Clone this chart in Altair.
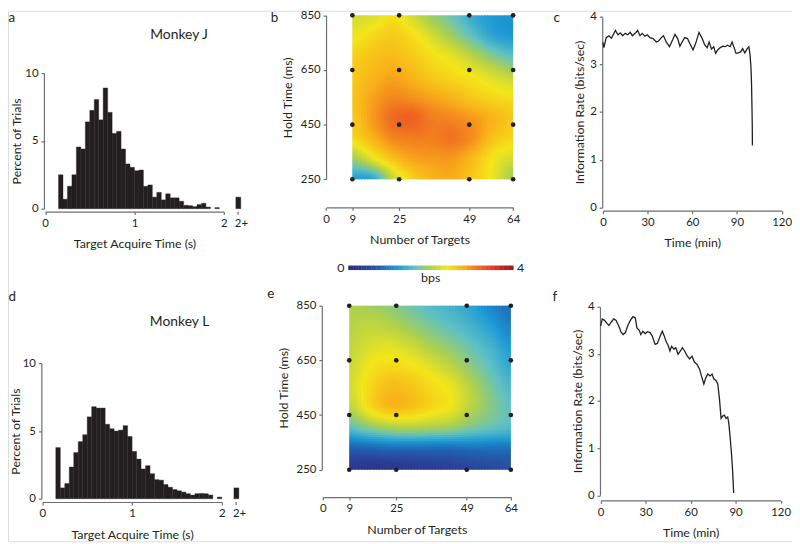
import altair as alt
import numpy as np
import pandas as pd

# ---------------- data ----------------
BIN_START = 0.15
BIN_WIDTH = 0.05
pct_monkey_j = [2.5, 0.7, 1.65, 2.5, 4.55, 4.4, 6.4, 7.25, 8.05, 6.55, 8.9, 7.1, 5.55, 5.7,
                4.4, 3.3, 3.05, 2.8, 2.85, 1.65, 1.75, 0.85, 1.2, 0.65, 1.1, 0.8, 0.8, 0.55,
                0.25, 0.22, 0.15, 0.3, 0.4, 0.12, 0.0, 0.08]
over2_monkey_j = 0.85
pct_monkey_l = [3.78, 0.8, 1.12, 2.34, 3.41, 4.22, 4.73, 6.05, 6.8, 6.7, 6.7, 5.5, 5.17, 5.0,
                5.07, 5.4, 4.6, 3.5, 2.93, 2.2, 2.44, 1.85, 1.41, 1.37, 1.05, 0.85, 0.68, 0.59,
                0.49, 0.37, 0.27, 0.37, 0.39, 0.37, 0.27, 0.0, 0.12]
over2_monkey_l = 0.8
OVER2_POS = 2.16

n_targets = [9, 25, 49, 64]
hold_times = [250, 450, 650, 850]

# colour values read on a regular grid over the maps (rows: 850 -> 250 ms, cols: 9 -> 64 targets)
GRID_X = [9.0, 15.875, 22.75, 29.625, 36.5, 43.375, 50.25, 57.125, 64.0]
GRID_Y = [850, 775, 700, 625, 550, 475, 400, 325, 250]
bps_monkey_j = [
    [2.2, 2.25, 2.45, 2.2, 1.9, 1.65, 1.35, 1.2, 1.15],
    [2.35, 2.5, 2.6, 2.45, 2.2, 1.9, 1.6, 1.3, 1.2],
    [2.55, 2.65, 2.7, 2.6, 2.45, 2.3, 2.05, 1.8, 1.6],
    [2.6, 2.75, 2.85, 2.75, 2.6, 2.5, 2.4, 2.25, 2.1],
    [2.65, 2.85, 3.0, 2.95, 2.85, 2.75, 2.6, 2.5, 2.45],
    [2.6, 2.9, 3.15, 3.2, 3.05, 3.0, 2.9, 2.75, 2.6],
    [2.5, 2.75, 3.0, 3.05, 3.05, 3.1, 2.95, 2.65, 2.5],
    [1.9, 2.3, 2.65, 2.85, 2.9, 2.9, 2.7, 2.4, 2.2],
    [1.25, 1.3, 2.1, 2.55, 2.75, 2.8, 2.6, 2.35, 1.9],
]
bps_monkey_l = [
    [2.0, 1.95, 1.85, 1.7, 1.55, 1.45, 1.3, 1.05, 0.85],
    [2.05, 2.1, 2.05, 1.9, 1.75, 1.6, 1.45, 1.25, 1.0],
    [2.1, 2.25, 2.3, 2.2, 2.0, 1.85, 1.65, 1.45, 1.2],
    [2.15, 2.4, 2.5, 2.45, 2.3, 2.1, 1.85, 1.6, 1.35],
    [2.2, 2.5, 2.7, 2.65, 2.5, 2.35, 2.05, 1.75, 1.5],
    [2.05, 2.45, 2.7, 2.65, 2.5, 2.35, 2.05, 1.8, 1.6],
    [1.55, 1.75, 1.9, 1.95, 1.9, 1.85, 1.7, 1.6, 1.5],
    [0.7, 0.75, 0.8, 0.8, 0.8, 0.8, 0.85, 0.85, 0.85],
    [0.3, 0.25, 0.25, 0.3, 0.35, 0.4, 0.45, 0.5, 0.55],
]

time_j = [0, 0.66, 2.2, 4.0, 5.7, 8.4, 10.1, 11.7, 13.2, 15.0, 16.7, 18.3, 19.8, 21.6, 23.3,
          24.9, 26.4, 28.2, 29.9, 31.5, 33.7, 35.9, 37.4, 39.2, 40.7, 42.5, 44.7, 46.9, 48.4,
          50.2, 51.7, 53.5, 55.0, 56.8, 58.6, 60.5, 62.3, 64.5, 66.7, 68.2, 70.0, 71.3, 72.9,
          74.4, 75.7, 77.1, 78.8, 80.6, 82.1, 83.7, 85.4, 86.7, 88.1, 89.4, 90.9, 92.5, 93.8,
          95.3, 96.9, 98.0, 98.8, 99.4, 99.8, 100.1, 100.3, 100.4]
rate_j = [3.46, 3.35, 3.56, 3.6, 3.55, 3.71, 3.62, 3.66, 3.6, 3.65, 3.62, 3.67, 3.6, 3.65, 3.71,
          3.6, 3.65, 3.59, 3.62, 3.56, 3.54, 3.47, 3.49, 3.56, 3.6, 3.47, 3.37, 3.52, 3.63, 3.54,
          3.38, 3.49, 3.56, 3.54, 3.42, 3.3, 3.44, 3.67, 3.54, 3.42, 3.35, 3.47, 3.32, 3.37, 3.23,
          3.3, 3.35, 3.38, 3.37, 3.4, 3.37, 3.47, 3.35, 3.23, 3.24, 3.26, 3.33, 3.24, 3.33, 3.37,
          3.2, 2.95, 2.6, 2.1, 1.7, 1.3]
time_l = [0, 1.1, 2.6, 4.4, 5.5, 7.0, 8.8, 10.3, 12.1, 13.6, 15.0, 16.5, 18.1, 19.8, 21.6, 23.1,
          24.2, 25.7, 26.8, 28.1, 29.7, 31.2, 33.0, 34.5, 36.3, 37.8, 39.6, 41.1, 42.4, 43.5,
          45.1, 46.2, 47.3, 48.8, 50.1, 51.6, 53.2, 54.5, 56.0, 57.6, 59.3, 60.9, 62.6, 64.2,
          65.9, 67.5, 68.8, 69.9, 71.4, 73.0, 74.3, 75.4, 77.0, 78.1, 79.2, 80.3, 81.4, 82.5,
          83.6, 84.7, 85.4, 86.2, 87.3, 88.0, 88.7]
rate_l = [3.59, 3.74, 3.71, 3.64, 3.6, 3.67, 3.74, 3.71, 3.59, 3.46, 3.41, 3.45, 3.6, 3.71, 3.79,
          3.76, 3.55, 3.5, 3.41, 3.48, 3.43, 3.47, 3.45, 3.37, 3.2, 3.22, 3.37, 3.48, 3.38, 3.27,
          3.17, 3.06, 3.16, 3.1, 3.13, 2.99, 3.06, 3.13, 3.06, 2.96, 2.89, 2.95, 2.82, 2.78, 2.68,
          2.5, 2.36, 2.47, 2.57, 2.53, 2.57, 2.47, 2.43, 2.36, 2.05, 1.63, 1.68, 1.7, 1.63, 1.66,
          1.54, 1.28, 0.86, 0.51, 0.05]

CB_DOMAIN = [0, 0.4, 0.8, 1.2, 1.6, 2.0, 2.4, 2.8, 3.2, 3.6, 4.0]
CB_COLORS = ["#2b2a78", "#2c3e97", "#2067b4", "#1e9ad6", "#5fc1c4", "#afd14d",
             "#f4e61a", "#f9ae1a", "#ef6223", "#e12a27", "#8c1b1d"]

# ---------------- helpers ----------------
FONT = "Lato"
INK = "#231f20"
AXC = "#6d6e71"
W, H = 792, 536


def axis(orient, offset, values, title, title_pad, label_pad=3):
    return alt.Axis(orient=orient, offset=offset, values=values, title=title, grid=False,
                    format=".1~f", minExtent=0, maxExtent=200,
                    domainColor=AXC, domainWidth=1.2, tickColor=AXC, tickWidth=1.2, tickSize=3,
                    labelFont=FONT, labelFontSize=11.5, labelColor=INK, labelPadding=label_pad,
                    labelFlush=False, labelOverlap=False,
                    titleFont=FONT, titleFontSize=12.5, titleFontWeight="normal", titleColor=INK,
                    titlePadding=title_pad)


def lin(domain, rng):
    return alt.Scale(domain=domain, range=rng, nice=False, zero=False)


def text(s, x, y, size=12.5, align="center", baseline="middle"):
    return alt.Chart(pd.DataFrame({"t": [s]})).mark_text(
        font=FONT, fontSize=size, color=INK, align=align, baseline=baseline
    ).encode(text="t:N", x=alt.value(x), y=alt.value(y))


def cr_weights(u, n):
    Wm = np.zeros((len(u), n))
    for k, uu in enumerate(u):
        i = int(np.floor(uu))
        i = min(max(i, 0), n - 2)
        t = uu - i
        w = [(-t**3 + 2*t**2 - t) / 2, (3*t**3 - 5*t**2 + 2) / 2,
             (-3*t**3 + 4*t**2 + t) / 2, (t**3 - t**2) / 2]
        for j, ww in zip([i - 1, i, i + 1, i + 2], w):
            Wm[k, min(max(j, 0), n - 1)] += ww
    return Wm


def field_cells(grid, nx=55, ny=80):
    G = np.array(grid, dtype=float)[::-1]
    ys = np.array(GRID_Y[::-1], dtype=float)
    xs = np.array(GRID_X, dtype=float)
    xe = np.linspace(xs[0], xs[-1], nx + 1)
    ye = np.linspace(ys[0], ys[-1], ny + 1)
    xc = (xe[:-1] + xe[1:]) / 2
    yc = (ye[:-1] + ye[1:]) / 2
    Wx = cr_weights((xc - xs[0]) / (xs[1] - xs[0]), len(xs))
    Wy = cr_weights((yc - ys[0]) / (ys[1] - ys[0]), len(ys))
    F = Wy @ G @ Wx.T
    dx, dy = xe[1] - xe[0], ye[1] - ye[0]
    rows = []
    for j in range(ny):
        for i in range(nx):
            rows.append({"x": round(xe[i], 3), "x2": round(min(xe[i + 1] + 0.4 * dx, xs[-1]), 3),
                         "y": round(ye[j], 2), "y2": round(min(ye[j + 1] + 0.4 * dy, ys[-1]), 2),
                         "v": round(float(F[j, i]), 3)})
    return pd.DataFrame(rows)


cscale = alt.Scale(domain=CB_DOMAIN, range=CB_COLORS, interpolate="rgb", clamp=True)


def histogram_panel(pcts, over2, xr, yr, x_axis_y, y_axis_x, title_pad_y, monkey, mxy):
    xs = lin([0, 2], xr)
    ys = lin([0, 10], yr)
    ax_x = axis("bottom", x_axis_y - H, [0, 1, 2], "Target Acquire Time (s)", 9)
    ax_y = axis("left", -y_axis_x, [0, 5, 10], "Percent of Trials", title_pad_y)
    starts = [BIN_START + i * BIN_WIDTH for i in range(len(pcts))]
    df = pd.DataFrame({"t0": starts, "t1": [s + BIN_WIDTH for s in starts], "pct": pcts})
    df = df[df.pct > 0]
    bars = alt.Chart(df).mark_rect(color=INK, stroke=INK, strokeWidth=0.4).encode(
        x=alt.X("t0:Q", scale=xs, axis=ax_x), x2="t1:Q",
        y=alt.Y("pct:Q", scale=ys, axis=ax_y), y2=alt.datum(0))
    odf = pd.DataFrame({"t0": [OVER2_POS - 0.025], "t1": [OVER2_POS + 0.03], "pct": [over2]})
    obar = alt.Chart(odf).mark_rect(color=INK, stroke=INK, strokeWidth=0.4).encode(
        x=alt.X("t0:Q", scale=xs, axis=ax_x), x2="t1:Q",
        y=alt.Y("pct:Q", scale=ys, axis=ax_y), y2=alt.datum(0))
    tdf = pd.DataFrame({"t0": [OVER2_POS], "lab": ["2+"]})
    otick = alt.Chart(tdf).mark_rule(color=AXC, strokeWidth=1.2).encode(
        x=alt.X("t0:Q", scale=xs, axis=ax_x), y=alt.value(x_axis_y), y2=alt.value(x_axis_y + 3))
    olab = alt.Chart(tdf).mark_text(font=FONT, fontSize=11.5, color=INK, align="left",
                                    baseline="top", dx=-3.3).encode(
        x=alt.X("t0:Q", scale=xs, axis=ax_x), y=alt.value(x_axis_y + 6), text="lab:N")
    return alt.layer(bars, obar, otick, olab, text(monkey, mxy[0], mxy[1], size=14))


def heat_panel(grid, xr, yr, x_axis_y, y_axis_x):
    xs = lin([0, 64], xr)
    ys = lin([250, 850], yr)
    ax_x = axis("bottom", x_axis_y - H, [0, 9, 25, 49, 64], "Number of Targets", 9)
    ax_y = axis("left", -y_axis_x, [250, 450, 650, 850], "Hold Time (ms)", 6)
    cells = alt.Chart(field_cells(grid)).mark_rect().encode(
        x=alt.X("x:Q", scale=xs, axis=ax_x), x2="x2:Q",
        y=alt.Y("y:Q", scale=ys, axis=ax_y), y2="y2:Q",
        color=alt.Color("v:Q", scale=cscale, legend=None))
    pts = pd.DataFrame([(n, h) for n in n_targets for h in hold_times], columns=["x", "y"])
    dots = alt.Chart(pts).mark_circle(size=22, color=INK, opacity=1).encode(
        x=alt.X("x:Q", scale=xs, axis=ax_x), y=alt.Y("y:Q", scale=ys, axis=ax_y))
    return alt.layer(cells, dots)


def rate_panel(t, r, xr, yr, x_axis_y, y_axis_x):
    xs = lin([0, 120], xr)
    ys = lin([0, 4], yr)
    ax_x = axis("bottom", x_axis_y - H, [0, 30, 60, 90, 120], "Time (min)", 9)
    ax_y = axis("left", -y_axis_x, [0, 1, 2, 3, 4], "Information Rate (bits/sec)", 3)
    df = pd.DataFrame({"t": t, "r": r})
    return alt.Chart(df).mark_line(color=INK, strokeWidth=1.3).encode(
        x=alt.X("t:Q", scale=xs, axis=ax_x), y=alt.Y("r:Q", scale=ys, axis=ax_y))


# ---------------- panels (chart coordinates = page - 8) ----------------
pa = histogram_panel(pct_monkey_j, over2_monkey_j, [37.5, 218], [200, 63], 203, 36.3, 1,
                     "Monkey J", (172.8, 25))
pd_ = histogram_panel(pct_monkey_l, over2_monkey_l, [34.7, 216], [493, 356.3], 496.3, 33.7, 0,
                      "Monkey L", (173.3, 314.5))
pb = heat_panel(bps_monkey_j, [321.3, 510.3], [170.3, 4.7], 198.7, 321.3)
pe = heat_panel(bps_monkey_l, [318, 508], [463.7, 298], 491.3, 317)
pc = rate_panel(time_j, rate_j, [601, 781.5], [198.7, 6], 202, 600.3)
pf = rate_panel(time_l, rate_l, [598.7, 780.5], [489.5, 299], 494.7, 598)

# colour bar
cb_vals = [round(0.04 * i, 2) for i in range(100)]
cbdf = pd.DataFrame({"v0": cb_vals, "v1": [v + 0.05 for v in cb_vals], "v": [v + 0.02 for v in cb_vals]})
cbar = alt.Chart(cbdf).mark_rect().encode(
    x=alt.X("v0:Q", scale=lin([0, 4], [343.7, 510.3]), axis=None), x2="v1:Q",
    y=alt.value(257.5), y2=alt.value(262),
    color=alt.Color("v:Q", scale=cscale, legend=None))
cb_layer = alt.layer(cbar, text("0", 336.3, 259.5), text("4", 517.7, 259.5), text("bps", 427, 270.5))

letters = alt.layer(
    text("a", 0.5, 0, size=13.5, align="left", baseline="top"),
    text("b", 265.5, 0, size=13.5, align="left", baseline="top"),
    text("c", 551, 0, size=13.5, align="left", baseline="top"),
    text("d", 0.5, 282, size=13.5, align="left", baseline="top"),
    text("e", 262, 279, size=13.5, align="left", baseline="top"),
    text("f", 550, 282, size=13.5, align="left", baseline="top"),
)

chart = alt.layer(pa, pb, pc, pd_, pe, pf, cb_layer, letters).resolve_scale(
    x="independent", y="independent"
).properties(
    width=W, height=H, padding=0, autosize=alt.AutoSizeParams(type="none")
).configure_view(stroke=None).configure(font=FONT)

chart.save("out.html", embed_options={"renderer": "svg", "actions": False})
